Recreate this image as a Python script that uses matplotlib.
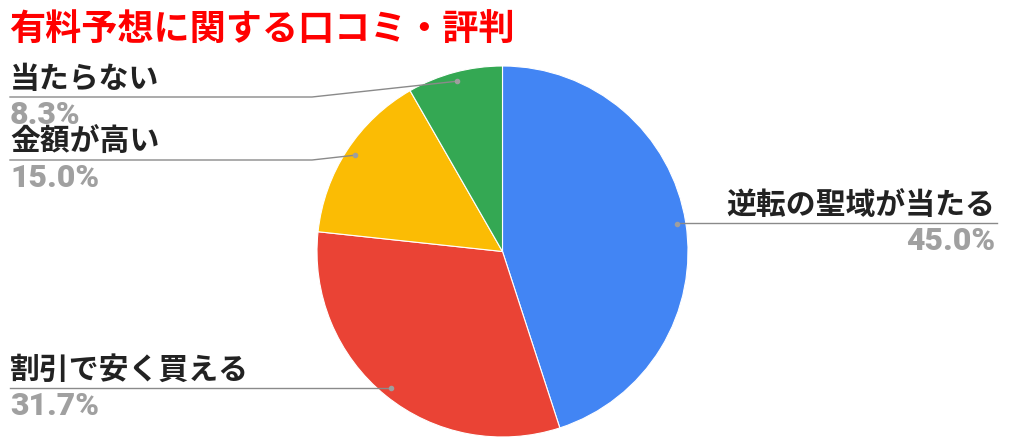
import matplotlib
matplotlib.use("Agg")
import matplotlib.pyplot as plt
import numpy as np

plt.rcParams["font.family"] = ["Noto Sans CJK JP", "DejaVu Sans"]

# data
title = "有料予想に関する口コミ・評判"
labels = ["逆転の聖域が当たる", "割引で安く買える", "金額が高い", "当たらない"]
values = [45.0, 31.7, 15.0, 8.3]
colors = ["#4285F4", "#EA4335", "#FBBC04", "#34A853"]

W, H = 1012, 448
cx, cy, r = 502.5, 251.5, 185.5

# label layout: line y (px from top), elbow x, side
line_y = [223, 388, 160, 97]
elbow_x = [None, None, 312, 312]
side = ["right", "left", "left", "left"]


def Y(py):
    return H - py


fig = plt.figure(figsize=(W / 100, H / 100), dpi=100)
ax = fig.add_axes([0, 0, 1, 1])
ax.pie(values, colors=colors, startangle=90, counterclock=False,
       center=(cx, Y(cy)), radius=r,
       wedgeprops=dict(edgecolor="white", linewidth=0.8))
ax.set_xlim(0, W)
ax.set_ylim(0, H)
ax.set_aspect("equal")
ax.axis("off")

fig.text(9 / W, 1 - 29 / H, title, color="#FF0000", fontsize=26,
         fontweight="bold", va="center", ha="left")

total = sum(values)
start = 0.0
for lab, v, ly, ex, sd in zip(labels, values, line_y, elbow_x, side):
    mid = (start + v / 2) / total * 2 * np.pi
    start += v
    dx = cx + 0.95 * r * np.sin(mid)
    dy = cy - 0.95 * r * np.cos(mid)
    ax.plot([dx], [Y(dy)], "o", color="#9e9e9e", markersize=3, zorder=5)
    if sd == "right":
        xs, ys = [dx, 997], [ly, ly]
        tx, ha = 995, "right"
    else:
        if ex is None:
            xs, ys = [dx, 10], [ly, ly]
        else:
            xs, ys = [dx, ex, 10], [dy, ly, ly]
        tx, ha = 10, "left"
    ax.plot(xs, [Y(y) for y in ys], color="#8a8a8a", linewidth=1, zorder=4)
    ax.text(tx, Y(ly - 3), lab, ha=ha, va="bottom", fontsize=21.5,
            fontweight="bold", color="#222222")
    ax.text(tx, Y(ly + 3), f"{v:.1f}%", ha=ha, va="top", fontsize=23,
            fontweight="heavy", color="#a0a0a0",
            family=["Roboto", "DejaVu Sans"])

fig.savefig("out.png", dpi=100, facecolor="white")
